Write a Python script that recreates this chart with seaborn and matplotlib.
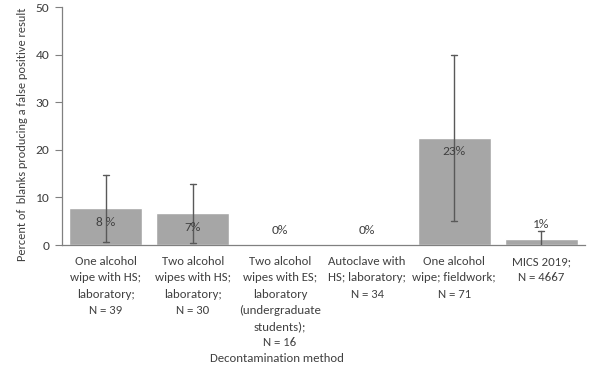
import matplotlib
matplotlib.use("Agg")
import matplotlib.pyplot as plt
import seaborn as sns
import pandas as pd

methods = [
    "One alcohol\nwipe with HS;\nlaboratory;\nN = 39",
    "Two alcohol\nwipes with HS;\nlaboratory;\nN = 30",
    "Two alcohol\nwipes with ES;\nlaboratory\n(undergraduate\nstudents);\nN = 16",
    "Autoclave with\nHS; laboratory;\nN = 34",
    "One alcohol\nwipe; fieldwork;\nN = 71",
    "MICS 2019;\nN = 4667",
]
percent = [7.7, 6.7, 0.0, 0.0, 22.5, 1.3]
ci_low = [0.6, 0.4, None, None, 5.1, 0.0]
ci_high = [14.8, 12.9, None, None, 39.9, 2.9]
value_labels = ["8 %", "7%", "0%", "0%", "23%", "1%"]

df = pd.DataFrame({"method": methods, "percent": percent})

sns.set_theme(style="white")
plt.rcParams["font.family"] = ["Carlito", "Lato", "DejaVu Sans"]
text_color = "#404040"
fs = 9.2

fig = plt.figure(figsize=(5.92, 3.67), dpi=100)
ax = fig.add_axes([62 / 592, 1 - 245 / 367, 523 / 592, 238 / 367])

sns.barplot(data=df, x="method", y="percent", color="#a6a6a6", saturation=1,
            width=0.84, ax=ax, errorbar=None)

# confidence intervals
for i, (lo, hi) in enumerate(zip(ci_low, ci_high)):
    if lo is None:
        continue
    ax.plot([i, i], [lo, hi], color="#595959", lw=1.0, zorder=3)
    for y in (lo, hi):
        if y > 0:
            ax.plot([i - 0.035, i + 0.035], [y, y], color="#595959", lw=1.0, zorder=3)

# value labels: inside the top of tall bars, above short ones
for i, (v, lab) in enumerate(zip(percent, value_labels)):
    off = -14 if v > 5 else 14
    ax.annotate(lab, xy=(i, v), xytext=(0, off), textcoords="offset pixels",
                ha="center", va="center", fontsize=fs + 0.5, color=text_color, zorder=4)

ax.set_ylim(0, 50)
ax.set_xlim(-0.5, 5.5)
ax.set_yticks([0, 10, 20, 30, 40, 50])
ax.tick_params(axis="y", length=5, width=0.8, color="#808080", labelsize=fs + 0.5,
               labelcolor=text_color, left=True, pad=4)
ax.tick_params(axis="x", length=0, labelsize=fs, labelcolor=text_color, pad=8)
for lbl in ax.get_xticklabels():
    lbl.set_linespacing(1.58)
    lbl.set_verticalalignment("top")

for side in ("top", "right"):
    ax.spines[side].set_visible(False)
for side in ("left", "bottom"):
    ax.spines[side].set_color("#808080")
    ax.spines[side].set_linewidth(0.9)

ax.set_xlabel("")
ax.set_ylabel("")
fig.text(23 / 592, 1 - 134 / 367,
         "Percent of  blanks producing a false positive result",
         rotation=90, ha="center", va="center", fontsize=fs - 0.3, color=text_color)
fig.text(277 / 592, 1 - 358 / 367, "Decontamination method", ha="center",
         va="center", fontsize=fs, color=text_color)

fig.savefig("out.png", dpi=100)
